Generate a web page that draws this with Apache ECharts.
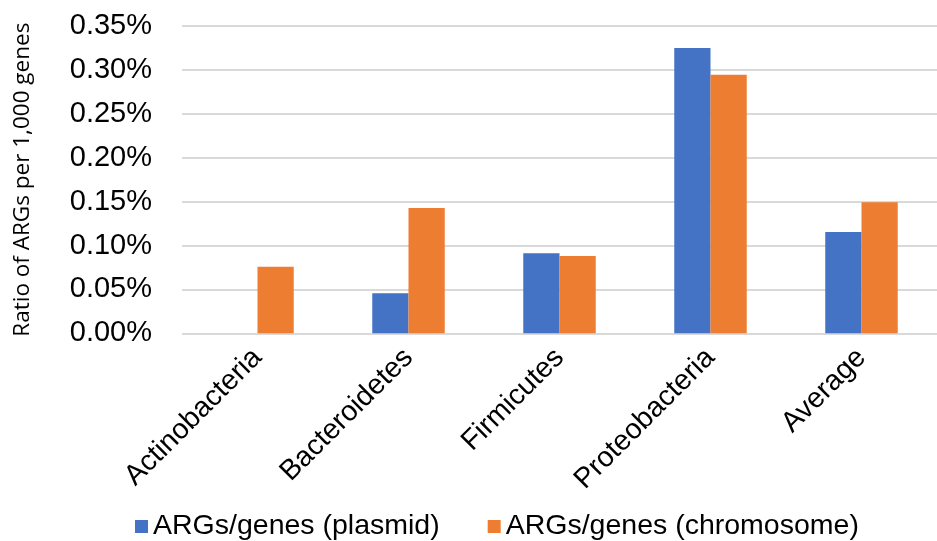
<!DOCTYPE html>
<html>
<head>
<meta charset="utf-8">
<script src="https://cdn.jsdelivr.net/npm/echarts@6/dist/echarts.min.js"></script>
<style>
  html, body { margin: 0; padding: 0; background: #ffffff; }
  #chart { width: 937px; height: 541px; }
</style>
</head>
<body>
<div id="chart"></div>
<script>
// Phyla on the category axis
const categories = ['Actinobacteria', 'Bacteroidetes', 'Firmicutes', 'Proteobacteria', 'Average'];
// ARG ratio per 1,000 genes, in percent
const plasmidValues = [null, 0.0456, 0.0911, 0.3250, 0.1154];
const chromosomeValues = [0.0759, 0.1427, 0.0880, 0.2945, 0.1492];
const seriesNames = ['ARGs/genes (plasmid)', 'ARGs/genes (chromosome)'];
const yAxisTitle = 'Ratio of ARGs per 1,000 genes';

const chart = echarts.init(document.getElementById('chart'), null, { renderer: 'canvas' });
const labelFont = '"Liberation Sans", Arial, Helvetica, sans-serif';

chart.setOption({
  animation: false,
  backgroundColor: '#ffffff',
  grid: { left: 182, top: 26, width: 764, height: 307.3, containLabel: false },
  legend: {
    data: seriesNames,
    left: 130,
    top: 507,
    itemWidth: 13,
    itemHeight: 13,
    itemGap: 48,
    icon: 'rect',
    textStyle: { fontFamily: labelFont, fontSize: 28.5, color: '#000000' }
  },
  xAxis: {
    type: 'category',
    data: categories,
    axisLine: { show: false },
    axisTick: { show: false },
    axisLabel: {
      rotate: 45,
      margin: 20,
      interval: 0,
      fontFamily: labelFont,
      fontSize: 28.5,
      color: '#000000'
    }
  },
  yAxis: {
    type: 'value',
    min: 0,
    max: 0.35,
    interval: 0.05,
    name: yAxisTitle,
    nameLocation: 'middle',
    nameGap: 148,
    nameRotate: 90,
    nameTextStyle: { fontFamily: '"Open Sans", "Noto Sans", sans-serif', fontSize: 22.5, color: '#000000' },
    axisLine: { show: false },
    axisTick: { show: false },
    splitLine: { lineStyle: { color: '#d9d9d9', width: 2 } },
    axisLabel: {
      margin: 30,
      fontFamily: labelFont,
      fontSize: 29,
      color: '#000000',
      formatter: v => v.toFixed(2) + '%'
    }
  },
  series: [
    {
      name: seriesNames[0],
      type: 'bar',
      data: plasmidValues,
      barGap: '0%',
      barCategoryGap: '52%',
      itemStyle: { color: '#4472C4' }
    },
    {
      name: seriesNames[1],
      type: 'bar',
      data: chromosomeValues,
      barGap: '0%',
      barCategoryGap: '52%',
      itemStyle: { color: '#ED7D31' }
    }
  ]
});
</script>
</body>
</html>
